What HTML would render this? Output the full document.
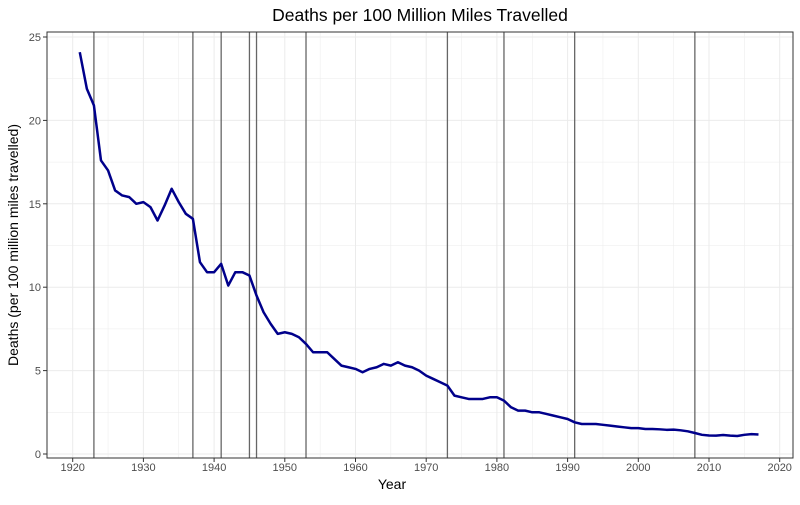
<!DOCTYPE html>
<html><head><meta charset="utf-8"><style>
body{margin:0;background:#fff;font-family:"Liberation Sans",sans-serif}
</style></head><body>
<svg width="800" height="500" xmlns="http://www.w3.org/2000/svg">
<text x="420" y="21" text-anchor="middle" font-size="17.5" fill="#000">Deaths per 100 Million Miles Travelled</text>
<text x="392" y="489" text-anchor="middle" font-size="14" fill="#000">Year</text>
<text transform="translate(18,245) rotate(-90)" text-anchor="middle" font-size="14" fill="#000">Deaths (per 100 million miles travelled)</text>
<g id="grid"></g><g id="vlines"></g><g id="series"></g><g id="axes"></g>
<rect x="47" y="32" width="746" height="426" fill="none" stroke="#333" stroke-width="1"/>
</svg>
<script>
const years=[];for(let y=1921;y<=2017;y++)years.push(y);
const deaths=[24.09,21.9,20.9,17.6,17.0,15.8,15.5,15.4,15.0,15.1,14.8,14.0,14.9,15.9,15.1,14.4,14.1,11.5,10.9,10.9,11.4,10.1,10.9,10.9,10.7,9.5,8.5,7.8,7.2,7.3,7.2,7.0,6.6,6.1,6.1,6.1,5.7,5.3,5.2,5.1,4.9,5.1,5.2,5.4,5.3,5.5,5.3,5.2,5.0,4.7,4.5,4.3,4.1,3.5,3.4,3.3,3.3,3.3,3.4,3.4,3.2,2.8,2.6,2.6,2.5,2.5,2.4,2.3,2.2,2.1,1.9,1.8,1.8,1.8,1.75,1.7,1.65,1.6,1.55,1.55,1.5,1.5,1.48,1.45,1.46,1.42,1.36,1.26,1.15,1.11,1.1,1.14,1.1,1.08,1.15,1.19,1.17];
const eventYears=[1923,1937,1941,1945,1946,1953,1973,1981,1991,2008];
const xTicks=[1920,1930,1940,1950,1960,1970,1980,1990,2000,2010,2020];
const yTicks=[0,5,10,15,20,25];
const X=v=>72.7+(v-1920)*7.07;
const Y=v=>454-v*16.68;
const NS="http://www.w3.org/2000/svg";
function mk(t,a,p){const e=document.createElementNS(NS,t);for(const k in a)e.setAttribute(k,a[k]);p.appendChild(e);return e;}
const grid=document.getElementById('grid'),ax=document.getElementById('axes');
for(let v=1915;v<=2025;v+=5){const x=X(v);if(x<47||x>793)continue;const l=mk('line',{x1:x,x2:x,y1:32,y2:458,stroke:'#ebebeb','stroke-width':v%10?0.5:1},grid);

}
for(let v=0;v<=25;v+=2.5){const y=Y(v);const l=mk('line',{x1:47,x2:793,y1:y,y2:y,stroke:'#ebebeb','stroke-width':v%5?0.5:1},grid);

}
xTicks.forEach(v=>{const x=X(v);mk('line',{x1:x,x2:x,y1:458,y2:462,stroke:'#333'},ax);
const t=mk('text',{x:x,y:471,'text-anchor':'middle','font-size':11,fill:'#4d4d4d'},ax);t.textContent=v;

});
yTicks.forEach(v=>{const y=Y(v);mk('line',{x1:43,x2:47,y1:y,y2:y,stroke:'#333'},ax);
const t=mk('text',{x:41,y:y+4,'text-anchor':'end','font-size':11,fill:'#4d4d4d'},ax);t.textContent=v;

});
const vl=document.getElementById('vlines');
eventYears.forEach(v=>{const l=mk('line',{x1:X(v),x2:X(v),y1:32,y2:458,stroke:'#666','stroke-width':1.3},vl);

});
const p=mk('polyline',{points:years.map((y,i)=>X(y)+','+Y(deaths[i])).join(' '),fill:'none',stroke:'#00008b','stroke-width':2.5,'stroke-linejoin':'round'},document.getElementById('series'));


</script>
</body></html>
